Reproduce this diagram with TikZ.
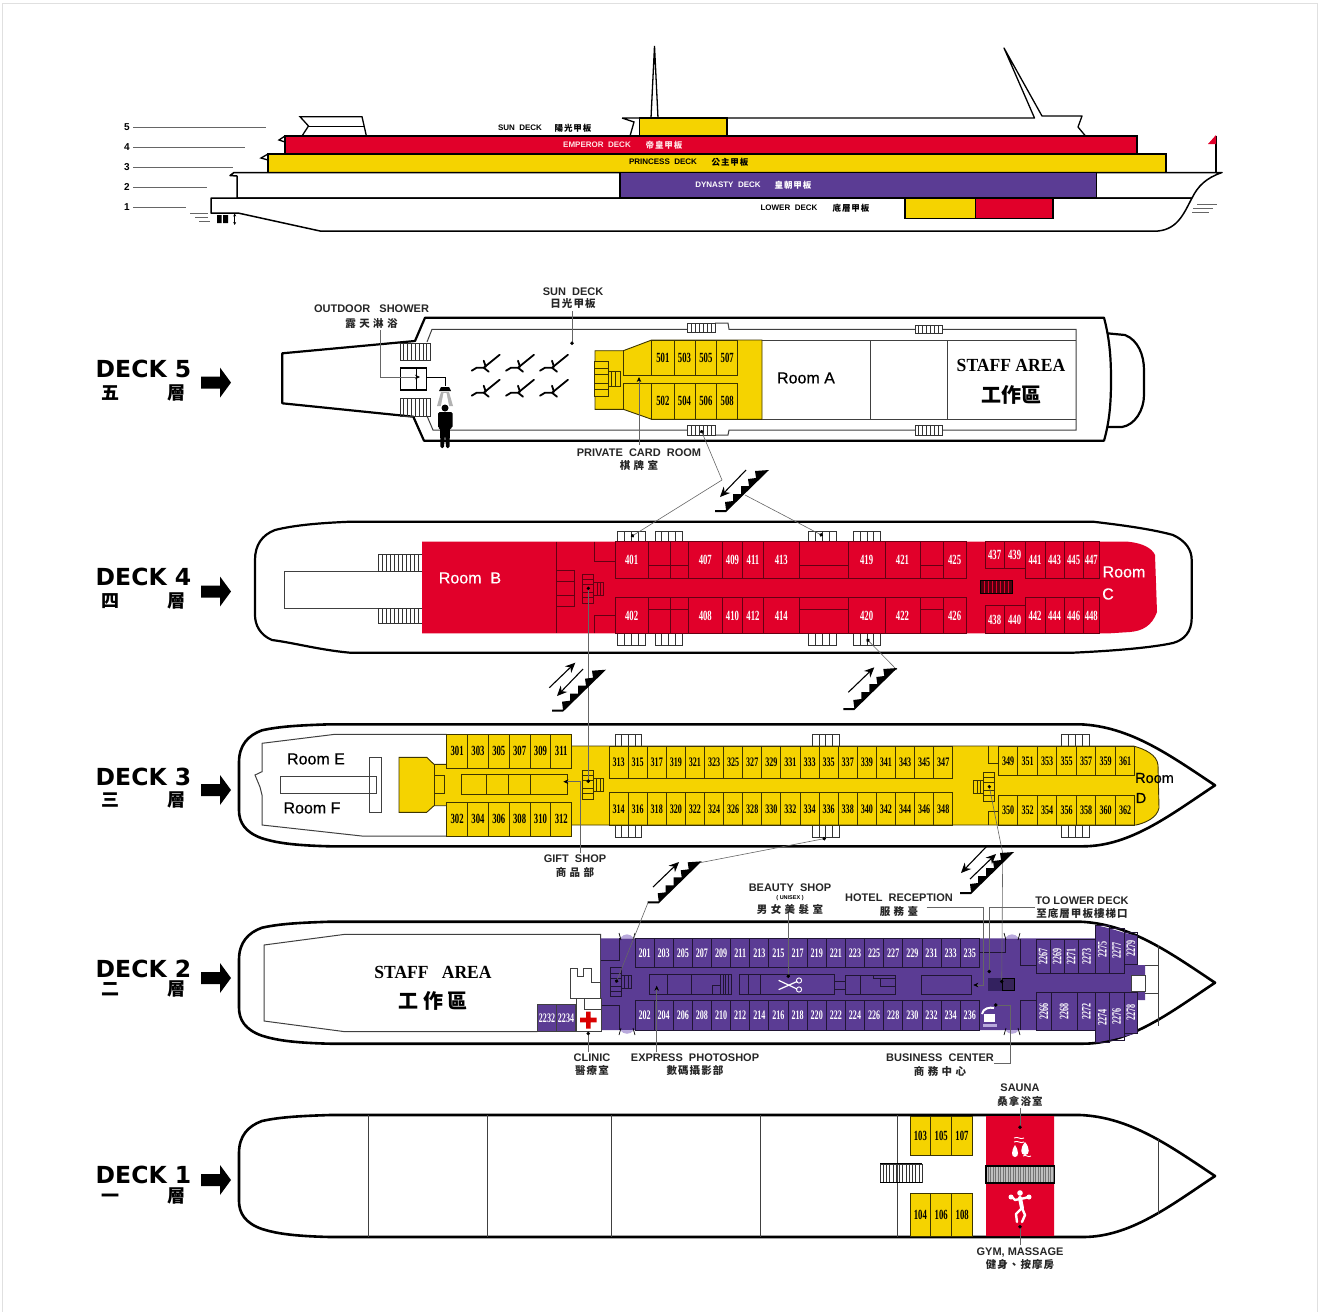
\documentclass[tikz,border=0pt]{standalone}
\usepackage{fontspec}
\usepackage{tikz}
\usetikzlibrary{arrows.meta}
\setmainfont{Liberation Sans}
\newfontfamily\cjk[LetterSpace=10]{Noto Sans CJK TC}
\newfontfamily\cjkplain{Noto Sans CJK TC}
\newfontfamily\roomnumfont[FakeStretch=0.62]{Liberation Serif}
\newfontfamily\staffont[FakeStretch=0.95]{Liberation Serif}
\newfontfamily\roomfont[FakeBold=0.5]{Liberation Sans}
\newfontfamily\deckfont{DejaVu Sans}
\definecolor{emperorred}{HTML}{E1002A}
\definecolor{princessyellow}{HTML}{F5D300}
\definecolor{dynastypurple}{HTML}{5B3C94}
\definecolor{welldark}{HTML}{33215F}
\definecolor{doorlilac}{HTML}{B9A9DC}
\newcommand{\ladder}[5]{%
	\draw[ladderline] (#1,#2) rectangle (#3,#4);
	\foreach \k in {1,...,#5}
		\draw[ladderline] ({#1+(#3-#1)*\k/(#5+1)},#2) -- ({#1+(#3-#1)*\k/(#5+1)},#4);
}
\tikzset{
	stairwell/.pic={
		\draw[fill=#1] (-5.5,-14.5) rectangle (5.5,14.5);
		\draw (-5.5,-9) -- (5.5,-9) (-5.5,-4) -- (5.5,-4) (-5.5,4) -- (5.5,4) (-5.5,9) -- (5.5,9);
		\draw[fill=#1] (5.5,-6.5) rectangle (15.5,6.5);
		\draw (8.7,-6.5) -- (8.7,6.5) (12,-6.5) -- (12,6.5);
	},
	flight/.pic={
		\fill (0,0) -- (11,0) -- (54,-42) -- (40,-41) -- (41,-34) -- (33,-33) -- (34,-26) -- (26,-26)
			-- (26,-18) -- (18,-18) -- (18,-11) -- (10,-10) -- (11,-2) -- (0,-2) -- cycle;
	},
	goup/.pic={\draw[fatarrow,->] (0,0) -- (26,-25);},
	godown/.pic={\draw[fatarrow,->] (26,-27) -- (0,0);},
	deckarrow/.pic={\fill (0,-6) -- (19,-6) -- (19,-15) -- (30,0) -- (19,15) -- (19,6) -- (0,6) -- cycle;},
	longhull/.pic={
		\draw[hull] (91,0) -- (841,0) .. controls (891,2) and (931,31) .. (976,61)
			.. controls (931,91) and (891,122) .. (844,122) -- (91,122)
			.. controls (51,121) and (36,118) .. (23,114) .. controls (6,108) and (0,98) .. (0,86)
			-- (0,38) .. controls (0,21) and (9,11) .. (23,6) .. controls (41,2) and (61,1) .. (91,0) -- cycle;
	},
	chair/.pic={
		\draw[line width=1.8pt,line cap=round] (0,-1) -- (5,-4) -- (12,-4) -- (28,-17);
		\draw[line width=1.8pt,line cap=round] (12,-4) -- (17,0) (14,-5) -- (12,-11);
	},
}
\begin{document}
\begin{tikzpicture}[x=1pt, y=-1pt, >={Stealth[length=10pt,width=9pt]}, line width=0.9pt,
		node distance=14pt,
		hull/.style={line width=2.6pt, fill=white, line join=round},
		sidehull/.style={line width=2.2pt, line join=round},
		partition/.style={line width=1pt, draw=black!75},
		ladderline/.style={line width=0.9pt, draw=black!80},
		fatarrow/.style={line width=1.1pt},
		lead/.style={line width=0.6pt, draw=black!60},
		dotend/.style={lead, -{Circle[length=3.6pt,width=3.6pt,black]}},
		tipend/.style={lead, -{Stealth[length=5pt,width=4.5pt,black]}},
		redwall/.style={line width=0.9pt, draw=black!55!emperorred},
		yellowwall/.style={line width=0.9pt, draw=black!75!princessyellow},
		purplewall/.style={line width=0.9pt, draw=black!65!dynastypurple},
		roomnum/.style={inner sep=0pt, font=\roomnumfont\fontsize{14}{14}\selectfont\bfseries},
		smallnum/.style={roomnum, font=\roomnumfont\fontsize{13}{13}\selectfont\bfseries},
		lab/.style={inner sep=0pt, text=black!85, font=\fontsize{11}{12}\selectfont\bfseries},
		labcn/.style={inner sep=0pt, text=black!85, font=\cjk\fontsize{10.5}{11}\selectfont\bfseries},
		tiny/.style={inner sep=0pt, font=\fontsize{8}{9}\selectfont\bfseries},
		tinycn/.style={inner sep=0pt, font=\cjk\fontsize{8.5}{9}\selectfont\bfseries},
		roomname/.style={inner sep=0pt, font=\roomfont\fontsize{16}{17}\selectfont},
		staff/.style={inner sep=0pt, font=\staffont\fontsize{18.5}{20}\selectfont\bfseries},
		staffcn/.style={inner sep=0pt, font=\cjkplain\fontsize{20}{20}\selectfont\bfseries},
		decktitle/.style={inner sep=0pt, font=\deckfont\fontsize{23.5}{24}\selectfont\bfseries},
		decklevel/.style={inner sep=0pt, text height=12pt, text depth=1pt, font=\cjkplain\fontsize{18}{18}\selectfont\bfseries},
	]
	\useasboundingbox (0,0) rectangle (1318,1312);
	\draw[black!12, line width=1pt] (2,1312) -- (2,3) -- (1317,3) -- (1317,1312);

	\foreach \n/\cn/\ty/\ay/\cy in {5/五/369/382.6/394, 4/四/577/591.5/602, 3/三/777/790/801, 2/二/969/978/990, 1/一/1175/1180/1197} {
		\node[decktitle] (deck\n) at (143.5,\ty) {DECK \n};
		\node[decklevel] (level\n) at (110,\cy) {\cn};
		\node[decklevel] (floor\n) at (176,\cy) {層};
		\pic at (201,\ay) {deckarrow};
	}

	\foreach \n/\y/\xe in {5/127/266, 4/147/245, 3/167/233, 2/187/207, 1/207/186} {
		\node[inner sep=0pt, font=\fontsize{10}{10}\selectfont\bfseries] (side\n) at (127,\y) {\n};
		\coordinate (sideend\n) at (\xe,\y);
		\draw[lead] (side\n.east) ++(3,0) -- (sideend\n);
	}
	\draw[line width=1.3pt, fill=white] (300,116.7) -- (362,116.7) -- (366.4,136) -- (302,136) -- (308.5,126) -- cycle;
	\draw[line width=1.3pt] (308.5,126.7) -- (364,126.7);
	\draw[line width=1.3pt] (651,118) -- (654.5,46) -- (658,118);
	\draw[line width=1.3pt] (622,118) -- (639,118) (622,118) -- (634,122) -- (630,136);
	\draw[line width=1.3pt, line join=round] (727,118) -- (1034.5,118) -- (1004,48) -- (1042,116) -- (1082,116) -- (1078,127) -- (1085.5,136);
	\draw[line width=1.3pt, fill=princessyellow] (639.5,118) rectangle (727,136);
	\draw[line width=1.3pt, fill=emperorred] (285,136) rectangle (1137,154);
	\draw[line width=1.3pt] (285,136) -- (279,140) -- (285,142);
	\draw[line width=1.3pt, fill=princessyellow] (268,154) rectangle (1166,172.5);
	\draw[line width=1.3pt] (268,154) -- (261,158) -- (268,160);
	\draw[line width=1.5pt, fill=white, line join=round] (237,198) -- (237,176) -- (230,175.5) -- (234,172.5) -- (1222,172.5)
		.. controls (1206,178) and (1198,186) .. (1192,198) -- cycle;
	\draw[line width=1.3pt, fill=dynastypurple] (620,172.5) rectangle (1096.5,198);
	\draw[line width=1.5pt, fill=white, line join=round] (211,198) -- (1192,198) .. controls (1184,213) and (1178,229) .. (1158,231)
		-- (320,231) -- (238,213) -- (211,213) -- cycle;
	\draw[line width=1.3pt, fill=princessyellow] (905,198) rectangle (975.5,218.5);
	\draw[line width=1.3pt, fill=emperorred] (975.5,198) rectangle (1053,218.5);
	\draw[line width=1.2pt] (1216,172) -- (1216,136);
	\fill[emperorred] (1216,135) -- (1216,144) -- (1208,144) -- cycle;
	\draw[line width=0.8pt, draw=black!60] (1197,204) -- (1217,204) (1193,208.5) -- (1213,208.5) (1192,212.7) -- (1209,212.7);
	\draw[line width=0.8pt, draw=black!60] (190,213) -- (208,213) (195,217.5) -- (208,217.5) (199,221.5) -- (210,221.5);
	\fill (217,215) rectangle (221.7,223) (223,215) rectangle (228,223);
	\draw[line width=0.8pt, {Stealth[length=3pt,width=3pt]}-{Stealth[length=3pt,width=3pt]}] (234.7,213.5) -- (234.7,225);

	\node[tiny] (sunside) at (520,128) {SUN\ \ DECK};
	\node[tinycn] (sunsidecn) at (573,128.5) {陽光甲板};
	\node[tiny, text=white!90!red] (emperor) at (597,145) {EMPEROR\ \ DECK};
	\node[tinycn, text=white!90!red] (emperorcn) at (664,145.5) {帝皇甲板};
	\node[tiny] (princess) at (663,162) {PRINCESS\ \ DECK};
	\node[tinycn] (princesscn) at (730,162.5) {公主甲板};
	\node[tiny, text=white] (dynasty) at (728,185) {DYNASTY\ \ DECK};
	\node[tinycn, text=white] (dynastycn) at (793,185.5) {皇朝甲板};
	\node[tiny] (lower) at (789,208) {LOWER\ \ DECK};
	\node[tinycn] (lowercn) at (851,208.5) {底層甲板};

	\draw[sidehull, fill=white] (1104,333) -- (1125,335) .. controls (1138,340) and (1144,355) .. (1144,370) -- (1144,395)
		.. controls (1144,410) and (1135,425) .. (1122,427) -- (1104,427);
	\draw[sidehull, fill=white] (282.3,353.3) -- (415,341) -- (425,317.7) -- (1104,317.7) .. controls (1110,340) and (1111,360) .. (1111,380)
		.. controls (1111,400) and (1110,420) .. (1104,440.7) -- (424,440.7) -- (413.3,416.7) -- (282.3,403.3) -- cycle;
	\draw[partition] (427,342) -- (432,329.3) -- (687,329.3) (715,323) -- (728,323) -- (729,329.3) -- (915,329.3)
		(942,329.3) -- (1076,329.3) -- (1076,430) -- (942,430) (915,430) -- (729,430) -- (728,435) -- (715,435) (687,430) -- (433,430) -- (427,416);
	\ladder{400}{343}{430.7}{360}{7}
	\ladder{400}{398}{430.7}{416}{7}
	\ladder{687}{323}{715}{332}{6}
	\ladder{915}{325}{942}{333}{6}
	\ladder{687}{425.5}{715}{435}{6}
	\ladder{915}{425.5}{942}{435}{6}
	\draw[line width=1.2pt, fill=white] (400.7,368) rectangle (426.7,390);
	\draw[line width=1pt] (416,368) -- (416,390);
	\foreach \x in {471.7,506,540}
		\foreach \y in {371.7,396.7}
			\pic at (\x,\y) {chair};
	\fill[black!30] (437,406) -- (441,392) -- (449,392) -- (453,406) -- cycle;
	\fill[white] (441,406) -- (443.5,393) -- (446.5,393) -- (449,406) -- cycle;
	\fill[black] (439,391) -- (441,387) -- (449,387) -- (451,391) -- cycle;
	\fill[black] (445,408) circle (3.5);
	\fill[black, rounded corners=1.5pt] (438,412) -- (452.7,412) -- (452.7,428) -- (450,428) -- (449.5,448) -- (446,448) -- (445.3,436)
		-- (444.7,436) -- (444,448) -- (440.5,448) -- (440,428) -- (438,428) -- cycle;

	\draw[yellowwall, fill=princessyellow] (595,350.7) -- (623.3,350.7) -- (651.7,340) -- (762,340) -- (762,419.3) -- (651.7,419.3) -- (623.3,409.3) -- (595,409.3) -- cycle;
	\draw[yellowwall] (623.3,350.7) -- (623.3,375) -- (651.7,375) (623.3,409.3) -- (623.3,383.3) -- (651.7,383.3);
	\foreach \n/\a/\b in {501/651.7/674, 503/674/695, 505/695/716.7, 507/716.7/737.7}
		\draw[yellowwall] (\a,340) rectangle (\b,375) node[midway, roomnum] (c\n) {\n};
	\foreach \n/\a/\b in {502/651.7/674, 504/674/695, 506/695/716.7, 508/716.7/737.7}
		\draw[yellowwall] (\a,383.3) rectangle (\b,419.3) node[midway, roomnum] (c\n) {\n};
	\pic[yellowwall, scale=1.2] at (601.5,379) {stairwell=princessyellow};
	\draw[partition] (762,340) -- (1076,340) (762,419.3) -- (1076,419.3) (870,340) -- (870,419.3) (947,340) -- (947,419.3);
	\node[roomname] (rooma) at (806,378) {Room\ A};
	\node[staff] (stafftop) at (1011,365) {STAFF AREA};
	\node[staffcn] (stafftopcn) at (1011,395) {工作區};

	\node[lab] (shower) at (371.5,309) {OUTDOOR\ \ \ SHOWER};
	\node[labcn, below of=shower] (showercn) {露\ 天\ 淋\ 浴};
	\node[lab] (sundeck) at (573,292) {SUN\ \ DECK};
	\node[labcn, below of=sundeck, node distance=12pt] (sundeckcn) {日光甲板};
	\node[lab] (cardroom) at (639,453) {PRIVATE\ \ CARD\ \ ROOM};
	\node[labcn, below of=cardroom, node distance=12pt] (cardroomcn) {棋\ 牌\ 室};
	\coordinate (showerbox) at (420,377);
	\coordinate (showerelbow) at (380,377);
	\coordinate (showerhead) at (445,386);
	\draw[tipend] (380,330) -- (showerelbow) -- (showerbox);
	\draw[lead, black] (426.7,377) -- (445,377) -- (showerhead);
	\draw[dotend] (572,311) -- (572,345);
	\draw[tipend] (639,445) -- (639,377);

	\draw[hull, line width=2.2pt] (350,521.7) -- (1093,521.7) .. controls (1130,526) and (1155,530) .. (1173,535) .. controls (1186,541) and (1191.7,550) .. (1191.7,560)
		-- (1191.7,618) .. controls (1191.7,632) and (1184,640) .. (1173,643) .. controls (1150,648) and (1110,651) .. (1073,652.7)
		-- (350,652.7) .. controls (320,650) and (295,643) .. (272,640) .. controls (260,635) and (255,625) .. (255,615)
		-- (255,560) .. controls (255,545) and (262,535) .. (275,530) .. controls (295,525) and (320,523) .. (350,521.7) -- cycle;
	\draw[partition, fill=white] (284,571) rectangle (422,608.3);
	\ladder{378}{554}{422}{571}{10}
	\ladder{378}{608}{422}{623}{10}
	\fill[emperorred] (422,541.7) -- (1128,541.7) .. controls (1142,543) and (1152,548) .. (1155,555) -- (1157,612)
		.. controls (1152,626) and (1142,631) .. (1130,632) -- (1110,633.3) -- (422,633.3) -- cycle;
	\draw[redwall] (556,541.7) -- (556,633.3) (594.3,541.7) -- (594.3,561.7) -- (615,561.7) (594.3,633.3) -- (594.3,615) -- (615,615)
		(556,570) -- (574.3,570) -- (574.3,606.7) -- (556,606.7) (556,581.7) -- (574.3,581.7) (556,595) -- (574.3,595);
	\foreach \x/\z in {617.3/645, 655/682.3, 808.3/836.7, 853.3/880.7} {
		\ladder{\x}{531.7}{\z}{541.7}{3}
		\ladder{\x}{633.3}{\z}{645}{3}
	}
	\foreach \n/\a/\b in {401/615/648.3, 407/688.3/722.3, 409/722.3/742.7, 411/742.7/763.3, 413/763.3/799.3, 419/848.3/885, 421/885/920, 425/943.3/966, 441/1025/1045, 443/1045/1064, 445/1064/1083.3, 447/1083.3/1099.3}
		\draw[redwall] (\a,541.7) rectangle (\b,578.3) node[midway, roomnum, text=white] (c\n) {\n};
	\foreach \n/\a/\b in {402/615/648.3, 408/688.3/722.3, 410/722.3/742.7, 412/742.7/763.3, 414/763.3/799.3, 420/848.3/885, 422/885/920, 426/943.3/966, 442/1025/1045, 444/1045/1064, 446/1064/1083.3, 448/1083.3/1099.3}
		\draw[redwall] (\a,597.7) rectangle (\b,633.3) node[midway, roomnum, text=white] (c\n) {\n};
	\foreach \n/\a/\b in {437/985/1004.3, 439/1004.3/1025}
		\draw[redwall] (\a,541.7) rectangle (\b,568.3) node[midway, roomnum, text=white] (c\n) {\n};
	\foreach \n/\a/\b in {438/985/1004.3, 440/1004.3/1025}
		\draw[redwall] (\a,605.7) rectangle (\b,633.3) node[midway, roomnum, text=white] (c\n) {\n};
	\foreach \a/\b in {648.3/688.3, 799.3/848.3, 920/943.3} {
		\draw[redwall] (\a,541.7) rectangle (\b,578.3) (\a,565.7) -- (\b,565.7);
		\draw[redwall] (\a,597.7) rectangle (\b,633.3) (\a,609) -- (\b,609);
	}
	\draw[redwall] (670,541.7) -- (670,578.3) (670,597.7) -- (670,633.3);
	\pic[redwall] at (588.3,588.5) {stairwell=emperorred};
	\draw[line width=0.8pt, fill=black!65!emperorred] (980,580) rectangle (1012.3,593.3);
	\foreach \x in {984,988,992,996,1000,1004,1008}
		\draw[line width=0.6pt, draw=emperorred] (\x,581) -- (\x,592.5);
	\node[roomname, text=white] (roomb) at (470,578) {Room\ \ B};
	\node[roomname, text=white] (roomc) at (1124,572) {Room};
	\node[roomname, text=white] (roomctwo) at (1108,594) {C};

	\pic at (239,724.3) {longhull};
	\draw[partition] (446.7,734.3) -- (335,734.3) -- (262,743.3) -- (262,771.7) -- (255,775) -- (260,787) -- (262,795) -- (262,825) -- (361.7,836) -- (446.7,836);
	\draw[partition] (280,776) rectangle (376.7,793.3) (369.3,757.3) rectangle (381.7,812.3);
	\node[roomname] (roome) at (316,759) {Room\ E};
	\node[roomname] (roomf) at (312,808) {Room\ F};
	\ladder{615}{734.3}{641.7}{746}{3}
	\ladder{812.3}{734.3}{839}{746}{3}
	\ladder{1061.7}{734.3}{1089}{746}{3}
	\ladder{615}{825}{641.7}{837.7}{3}
	\ladder{812.3}{825}{839}{837.7}{3}
	\ladder{1061.7}{825}{1089}{837.7}{3}
	\draw[yellowwall, fill=princessyellow] (399,757.3) -- (426.7,757.3) -- (434,764.3) -- (446.7,764.3) -- (446.7,805.7) -- (434,805.7) -- (426.7,812.3) -- (399,812.3) -- cycle;
	\fill[princessyellow] (446,764.3) rectangle (572,805.7);
	\draw[yellowwall, fill=princessyellow] (571.7,746) -- (1133.3,746) .. controls (1145,749) and (1157,755) .. (1158,765) -- (1159,808)
		.. controls (1157,818) and (1145,823) .. (1136,825) -- (571.7,825);
	\draw[yellowwall] (434,764.3) -- (434,805.7) (434,775) rectangle (444.3,793.3);
	\draw[yellowwall] (461.7,774.3) rectangle (567.7,794) (486.7,774.3) -- (486.7,794) (508.3,774.3) -- (508.3,794) (530,774.3) -- (530,794);
	\foreach \n [count=\i from 0] in {301,303,...,311}
		\draw[yellowwall, fill=princessyellow] ({446.7+\i*20.83},734.3) rectangle ({446.7+(\i+1)*20.83},768.3) node[midway, roomnum] (c\n) {\n};
	\foreach \n [count=\i from 0] in {302,304,...,312}
		\draw[yellowwall, fill=princessyellow] ({446.7+\i*20.83},802.7) rectangle ({446.7+(\i+1)*20.83},836) node[midway, roomnum] (c\n) {\n};
	\foreach \n [count=\i from 0] in {313,315,...,347}
		\draw[yellowwall] ({609+\i*19.1},746) rectangle ({609+(\i+1)*19.1},778.3) node[midway, smallnum] (c\n) {\n};
	\foreach \n [count=\i from 0] in {314,316,...,348}
		\draw[yellowwall] ({609+\i*19.1},792.7) rectangle ({609+(\i+1)*19.1},825) node[midway, smallnum] (c\n) {\n};
	\foreach \n [count=\i from 0] in {349,351,...,361}
		\draw[yellowwall] ({998.3+\i*19.5},746) rectangle ({998.3+(\i+1)*19.5},775.7) node[midway, smallnum] (c\n) {\n};
	\foreach \n [count=\i from 0] in {350,352,...,362}
		\draw[yellowwall] ({998.3+\i*19.5},795) rectangle ({998.3+(\i+1)*19.5},825) node[midway, smallnum] (c\n) {\n};
	\draw[yellowwall] (988.3,746) -- (988.3,763.3) -- (998.3,763.3) (988.3,825) -- (988.3,811.7) -- (998.3,811.7);
	\pic[yellowwall] at (588,784.5) {stairwell=princessyellow};
	\pic[yellowwall, xscale=-1] at (989.3,786.5) {stairwell=princessyellow};
	\node[roomname, font=\roomfont\fontsize{14.5}{15}\selectfont] (roomd) at (1154.5,778) {Room};
	\node[roomname, font=\roomfont\fontsize{14.5}{15}\selectfont] (roomdtwo) at (1141,798) {D};

	\pic at (239,921.7) {longhull};
	\draw[partition] (600.7,982) -- (600.7,934.3) -- (345,934.3) -- (264,945) -- (264,1021) -- (345,1031.7) -- (537.3,1031.7);
	\fill[dynastypurple] (600.7,938.3) -- (1095.3,938.3) -- (1095.3,925) -- (1109.3,928.3) -- (1124,932.7) -- (1137.7,936) -- (1137.7,965) -- (1145,965) -- (1145,1000)
		-- (1137.7,1000) -- (1137.7,1033) -- (1124,1036.5) -- (1109.3,1040) -- (1095.3,1042.7) -- (1095.3,1030) -- (600.7,1030) -- cycle;
	\draw[partition, fill=white] (1131.7,975) rectangle (1145,991.7);
	\draw[partition] (1145,965) -- (1158.3,965) (1145,993) -- (1158.3,993) (1158.3,945) -- (1158.3,1026);
	\draw[purplewall] (601,960) -- (619,960) -- (619,938.3) (601,1005.7) -- (619,1005.7) -- (619,1030);
	\draw[purplewall] (979.3,952.7) -- (1005,952.7) -- (1005,938.3) (1020,939.3) -- (1020,965) -- (1036,965) (1020,1030) -- (1020,1000.7) -- (1036.7,1000.7);
	\foreach \x in {627,1012} {
		\fill[doorlilac] ({\x-7},938.3) .. controls ({\x-3},933) and ({\x+3},933) .. ({\x+7},938.3) -- cycle;
		\fill[doorlilac] ({\x-7},1030) .. controls ({\x-3},1035) and ({\x+3},1035) .. ({\x+7},1030) -- cycle;
		\draw[line width=0.7pt] ({\x-8},933) -- ({\x-6},940) ({\x+8},933) -- ({\x+6},940) ({\x-8},1035) -- ({\x-6},1028) ({\x+8},1035) -- ({\x+6},1028);
	}
	\foreach \n [count=\i from 0] in {201,203,...,235}
		\draw[purplewall] ({635+\i*19.13},938.3) rectangle ({635+(\i+1)*19.13},967.3) node[midway, smallnum, text=white] (c\n) {\n};
	\foreach \n [count=\i from 0] in {202,204,...,236}
		\draw[purplewall] ({635+\i*19.13},1000.7) rectangle ({635+(\i+1)*19.13},1030) node[midway, smallnum, text=white] (c\n) {\n};
	\foreach \n/\a/\b/\t in {2267/1036/1050/939.3, 2269/1050/1064/939.3, 2271/1064/1078/939.3, 2273/1078/1095.3/939.3, 2275/1095.3/1109.3/925, 2277/1109.3/1124/928.3}
		\draw[purplewall] (\a,\t) rectangle (\b,973.3) node[midway, smallnum, rotate=90, text=white] (c\n) {\n};
	\draw[purplewall] (1124,932.7) rectangle (1137.7,964.3) node[midway, smallnum, rotate=90, text=white] (c2279) {2279};
	\foreach \n/\a/\b/\t in {2266/1036.7/1051/1030, 2268/1051/1077.3/1030, 2272/1077.3/1095.3/1030, 2274/1095.3/1109.3/1042.7, 2276/1109.3/1124/1040, 2278/1124/1137.7/1033}
		\draw[purplewall] (\a,992.7) rectangle (\b,\t) node[midway, smallnum, rotate=90, text=white] (c\n) {\n};
	\draw[purplewall] (649.3,974.3) rectangle (731,994) (667.7,974.3) -- (667.7,994) (691,974.3) -- (691,994)
		(712.5,994) -- (712.5,985) -- (720,985) (720,975) -- (720,994);
	\foreach \x in {723,725.5,728}
		\draw[purplewall] (\x,975) -- (\x,994);
	\draw[purplewall] (739,974.3) rectangle (834,994) (748.3,974.3) -- (748.3,994) (760,974.3) -- (760,994);
	\draw[purplewall] (834,981.7) rectangle (845,989.3) (845,975) rectangle (895,994) (860,975) -- (860,994) (880,978) -- (880,986.7) -- (895,986.7) (873,975) -- (873,978) -- (895,978);
	\draw[purplewall] (921.7,975) rectangle (971.7,994);
	\pic[purplewall] at (616,982.3) {stairwell=dynastypurple};
	\fill[welldark] (988.3,978.3) rectangle (1002,990.7);
	\draw[fill=black!40!dynastypurple, line width=0.7pt] (1002,978.3) rectangle (1014,990.7);
	\draw[white, line width=1.2pt, line cap=round] (779,980.5) -- (797,989) (779,989.5) -- (797,981.5);
	\draw[white, line width=0.9pt] (799,980.5) circle (2.6) (799,989.5) circle (2.6);
	\fill[white] (984,1014) rectangle (995,1022);
	\draw[white, line width=2pt] (982,1014) .. controls (983,1008) and (990,1007) .. (994,1008);
	\fill[doorlilac] (983,1024) rectangle (997,1027);
	\draw[partition, fill=dynastypurple] (537.3,1004) rectangle (575.7,1031.7) (556.7,1004) -- (556.7,1031.7);
	\node[smallnum, text=white] (c2232) at (547,1018) {2232};
	\node[smallnum, text=white] (c2234) at (566,1018) {2234};
	\draw[partition, fill=white] (570,968.3) -- (577.3,968.3) -- (577.3,976) -- (583.3,976) -- (583.3,968.3) -- (591,968.3) -- (591,982.7) -- (600.7,982.7) -- (600.7,998.3) -- (570,998.3) -- cycle;
	\draw[partition, fill=white] (576.7,998.3) rectangle (601,1031.7);
	\draw[partition] (584.3,998.3) -- (584.3,1009) -- (601,1009);
	\fill[red!85!black] (586,1011.5) rectangle (590.6,1028.5) (580,1017.7) rectangle (596.6,1022.3);
	\node[staff] (staffmain) at (433,972) {STAFF\ \ \ AREA};
	\node[staffcn] (staffmaincn) at (433,1001) {工\ 作\ 區};

	\pic at (239,1115) {longhull};
	\foreach \x in {368,487,611,760,897}
		\draw[partition] (\x,1115) -- (\x,1236.7);
	\draw[partition] (1158.3,1138) -- (1158.3,1214);
	\foreach \n/\a/\b in {103/910/930.7, 105/930.7/951.7, 107/951.7/972.3}
		\draw[yellowwall, fill=princessyellow] (\a,1116) rectangle (\b,1155) node[midway, roomnum] (c\n) {\n};
	\foreach \n/\a/\b in {104/910/930.7, 106/930.7/951.7, 108/951.7/972.7}
		\draw[yellowwall, fill=princessyellow] (\a,1193.3) rectangle (\b,1236) node[midway, roomnum] (c\n) {\n};
	\ladder{880}{1164}{922.3}{1182}{12}
	\draw[line width=1.6pt] (880,1163.5) -- (922.3,1163.5) (880,1182.3) -- (922.3,1182.3);
	\fill[emperorred] (986,1116) rectangle (1054,1165.7) (986,1183.3) rectangle (1054,1236);
	\draw[line width=1.2pt, fill=black!25] (986,1166) rectangle (1054,1183);
	\foreach \x in {988,990.5,...,1053}
		\draw[black!55, line width=0.7pt] (\x,1167) -- (\x,1182);
	\fill[white] (1015,1145) .. controls (1011,1151) and (1011,1157) .. (1015,1157) .. controls (1019,1157) and (1019,1151) .. (1015,1145);
	\fill[white] (1025,1142) .. controls (1020,1148) and (1020,1155) .. (1025,1155) .. controls (1030,1155) and (1030,1148) .. (1025,1142);
	\draw[white, line width=0.9pt] (1014,1138) .. controls (1018,1136) and (1020,1140) .. (1024,1138) (1014,1142) .. controls (1018,1140) and (1020,1144) .. (1024,1142)
		(1023,1156) .. controls (1026,1154) and (1028,1158) .. (1031,1156);
	\fill[white] (1011,1197) circle (2.5) (1029,1197) circle (2.5) (1020,1193) circle (2.8);
	\draw[white, line width=2.4pt, line join=round, line cap=round] (1012,1197) -- (1015,1200) -- (1025,1198) -- (1028,1197);
	\draw[white, line width=4pt, line cap=round] (1020,1198) -- (1022,1208);
	\draw[white, line width=2.4pt, line join=round, line cap=round] (1022,1208) -- (1016,1214) -- (1017,1222) (1022,1208) -- (1025,1215) -- (1022,1222);

	\node[lab] (gift) at (575,859) {GIFT\ \ SHOP};
	\node[labcn, below of=gift, node distance=13pt] (giftcn) {商\ 品\ 部};
	\node[lab] (beauty) at (790,888) {BEAUTY\ \ SHOP};
	\node[inner sep=0pt, font=\fontsize{5.5}{6}\selectfont\bfseries, below of=beauty, node distance=10pt] (unisex) {( UNISEX )};
	\node[labcn, below of=unisex, node distance=11pt] (beautycn) {男\ 女\ 美\ 髮\ 室};
	\node[lab] (hotel) at (899,898) {HOTEL\ \ RECEPTION};
	\node[labcn, below of=hotel] (hotelcn) {服\ 務\ 臺};
	\node[lab] (tolower) at (1082,901) {TO\ LOWER\ DECK};
	\node[labcn, below of=tolower, node distance=12pt] (tolowercn) {至底層甲板樓梯口};
	\node[lab] (clinic) at (592,1058) {CLINIC};
	\node[labcn, below of=clinic, node distance=12pt] (cliniccn) {醫療室};
	\node[lab] (photo) at (695,1058) {EXPRESS\ \ PHOTOSHOP};
	\node[labcn, below of=photo, node distance=12pt] (photocn) {數碼攝影部};
	\node[lab] (business) at (940,1058) {BUSINESS\ \ CENTER};
	\node[labcn, below of=business, node distance=13pt] (businesscn) {商\ 務\ 中\ 心};
	\node[lab] (sauna) at (1020,1088) {SAUNA};
	\node[labcn, below of=sauna, node distance=13pt] (saunacn) {桑拿浴室};
	\node[lab] (gym) at (1020,1252) {GYM, MASSAGE};
	\node[labcn, below of=gym, node distance=13pt] (gymcn) {健身、按摩房};

	\coordinate (upperelbowa) at (722,480);
	\coordinate (upperelbowb) at (745,495);
	\coordinate (fivedot) at (701,430);
	\coordinate (fourdota) at (631,536.7);
	\coordinate (fourdotb) at (822.7,535.7);
	\coordinate (fourdotc) at (866.7,639);
	\coordinate (fourwell) at (588.3,588.3);
	\coordinate (threewella) at (588.3,783);
	\coordinate (threewellb) at (989.3,786.7);
	\coordinate (threedot) at (826,838.3);
	\coordinate (twowella) at (616,982.7);
	\coordinate (twowellb) at (1001.7,983.3);
	\coordinate (lowerbend) at (1002.7,853.3);
	\coordinate (footb) at (647.7,903.3);
	\coordinate (footc) at (700,862.7);
	\coordinate (stepd) at (897,670);
	\draw[dotend] (upperelbowa) -- (fivedot);
	\draw[dotend] (upperelbowa) -- (fourdota);
	\draw[dotend] (upperelbowb) -- (fourdotb);
	\draw[dotend] (stepd) -- (fourdotc);
	\draw[dotend] (fourwell) -- (threewella);
	\fill (fourwell) circle (1.8);
	\draw[dotend] (footc) -- (threedot);
	\draw[dotend] (footb) -- (twowella);
	\draw[dotend] (threewellb) -- (lowerbend) -- (twowellb);
	\fill (threewellb) circle (1.8);
	\draw[tipend] (580,853) -- (580,781.7) -- (563.3,781.7);
	\draw[dotend] (788.3,913) -- (788.3,978);
	\draw[dotend] (588.3,1052) -- (588.3,1031.7);
	\draw[tipend] (656.7,1052) -- (656.7,985.7);
	\draw[tipend] (926.7,907.3) -- (983.3,907.3) -- (983.3,985) -- (973.3,985);
	\draw[dotend] (1035,907.3) -- (989.3,907.3) -- (989.3,973.3);
	\draw[dotend] (994,1063.3) -- (1010,1063.3) -- (1010,1005) -- (994,1005);
	\draw[dotend] (1020,1108) -- (1020,1129);
	\draw[dotend] (1020,1245) -- (1020,1225);

	\pic at (715,512) {flight};
	\pic at (720,497) {godown};
	\pic at (552,711.7) {flight};
	\pic at (549.3,687.7) {goup};
	\pic at (557,696) {godown};
	\pic at (843.3,710) {flight};
	\pic at (848.3,692.3) {goup};
	\pic at (647.7,903.3) {flight};
	\pic at (653,887) {goup};
	\pic at (960,894) {flight};
	\pic at (970,879) {goup};
	\pic at (961,873) {godown};
\end{tikzpicture}
\end{document}
